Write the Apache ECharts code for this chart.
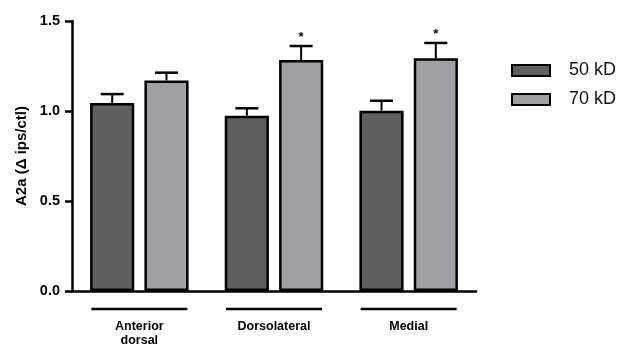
<!DOCTYPE html>
<html>
<head>
<meta charset="utf-8">
<script src="https://cdn.jsdelivr.net/npm/echarts@6/dist/echarts.min.js"></script>
<style>
  html, body { margin: 0; padding: 0; background: #fff; }
  #chart { width: 627px; height: 351px; }
</style>
</head>
<body>
<div id="chart"></div>
<script>
// Regions and group means with SEM
const regions = ['Anterior\ndorsal', 'Dorsolateral', 'Medial'];
const mean50 = [1.044, 0.974, 1.002];
const err50 = [0.05, 0.041, 0.055];
const mean70 = [1.170, 1.283, 1.293];
const err70 = [0.043, 0.078, 0.085];
const signif = ['', '*', '*'];
const yTicks = ['0.0', '0.5', '1.0', '1.5'];

const DARK = '#5f5f5f';
const LIGHT = '#a09fa4';
const FONT = 'Liberation Sans, Arial, sans-serif';

const chart = echarts.init(document.getElementById('chart'), null, { renderer: 'canvas' });

// Error bar + optional significance mark for one series
function errorSeries(name, means, errs, marks, seriesIndex) {
  return {
    type: 'custom',
    name: name + ' err',
    z: 5,
    data: means.map((m, i) => [i, m, errs[i]]),
    renderItem: function (params, api) {
      const i = api.value(0);
      const m = api.value(1);
      const e = api.value(2);
      const mark = marks[i];
      const base = api.coord([i, 0]);
      const bandW = api.size([1, 0])[0];
      // bar layout: width 44/134 of band, gap between the two bars
      const barW = bandW * 44 / 134;
      const gap = bandW * 10 / 134;
      const cx = base[0] + (seriesIndex === 0 ? -(gap / 2 + barW / 2) : (gap / 2 + barW / 2));
      const top = api.coord([i, m])[1];
      const hi = api.coord([i, m + e])[1];
      const capHalf = 11.5;
      const children = [
        { type: 'line', shape: { x1: cx, y1: top, x2: cx, y2: hi }, style: { stroke: '#000', lineWidth: 2 } },
        { type: 'line', shape: { x1: cx - capHalf, y1: hi, x2: cx + capHalf, y2: hi }, style: { stroke: '#000', lineWidth: 2.5 } }
      ];
      if (mark) {
        children.push({
          type: 'text',
          style: { text: mark, x: cx, y: hi - 2, align: 'center', verticalAlign: 'bottom',
                   font: 'bold 13px ' + FONT, fill: '#000' }
        });
      }
      return { type: 'group', children: children };
    },
    tooltip: { show: false },
    silent: true
  };
}

const option = {
  animation: false,
  backgroundColor: '#fff',
  grid: { left: 72, right: 151, top: 21, bottom: 60, containLabel: false },
  legend: {
    orient: 'vertical',
    left: 506,
    top: 56,
    itemWidth: 38,
    itemHeight: 11,
    itemGap: 10,
    icon: 'rect',
    data: ['50 kD', '70 kD'],
    textStyle: { fontFamily: FONT, fontSize: 18, color: '#111', padding: [0, 0, 0, 14], lineHeight: 19 }
  },
  xAxis: {
    type: 'category',
    data: regions,
    axisLine: { show: true, lineStyle: { color: '#000', width: 2.5 } },
    axisTick: { show: false },
    axisLabel: { show: false }
  },
  yAxis: {
    type: 'value',
    min: 0,
    max: 1.5,
    interval: 0.5,
    name: 'A2a (\u0394 ips/ctl)',
    nameLocation: 'middle',
    nameGap: 20,
    nameTextStyle: { fontFamily: FONT, fontWeight: 'bold', fontSize: 15, color: '#000' },
    axisLine: { show: true, lineStyle: { color: '#000', width: 2.5 } },
    axisTick: { show: true, length: 7, lineStyle: { color: '#000', width: 2.5 } },
    axisLabel: {
      fontFamily: FONT, fontWeight: 'bold', fontSize: 14.5, color: '#000', margin: 12,
      formatter: function (v) { return yTicks[Math.round(v / 0.5)]; }
    },
    splitLine: { show: false }
  },
  series: [
    {
      name: '50 kD',
      type: 'bar',
      data: mean50,
      barWidth: '32.8%',
      barGap: '23%',
      itemStyle: { color: DARK, borderColor: '#000', borderWidth: 2.5 }
    },
    {
      name: '70 kD',
      type: 'bar',
      data: mean70,
      barWidth: '32.8%',
      itemStyle: { color: LIGHT, borderColor: '#000', borderWidth: 2.5 }
    },
    errorSeries('50 kD', mean50, err50, ['', '', ''], 0),
    errorSeries('70 kD', mean70, err70, signif, 1)
  ]
};

chart.setOption(option);

// Group underlines and region names beneath the axis
const graphics = [];
regions.forEach(function (name, i) {
  const c = chart.convertToPixel({ xAxisIndex: 0 }, i);
  const y0 = chart.convertToPixel({ yAxisIndex: 0 }, 0);
  const half = 48;
  graphics.push({
    type: 'line',
    shape: { x1: c - half, y1: y0 + 18, x2: c + half, y2: y0 + 18 },
    style: { stroke: '#000', lineWidth: 2.5 }
  });
  graphics.push({
    type: 'text',
    style: {
      text: name, x: c, y: y0 + 29, align: 'center', verticalAlign: 'top',
      font: 'bold 12.5px ' + FONT, fill: '#000', lineHeight: 14
    }
  });
});
chart.setOption({ graphic: graphics });
</script>
</body>
</html>
